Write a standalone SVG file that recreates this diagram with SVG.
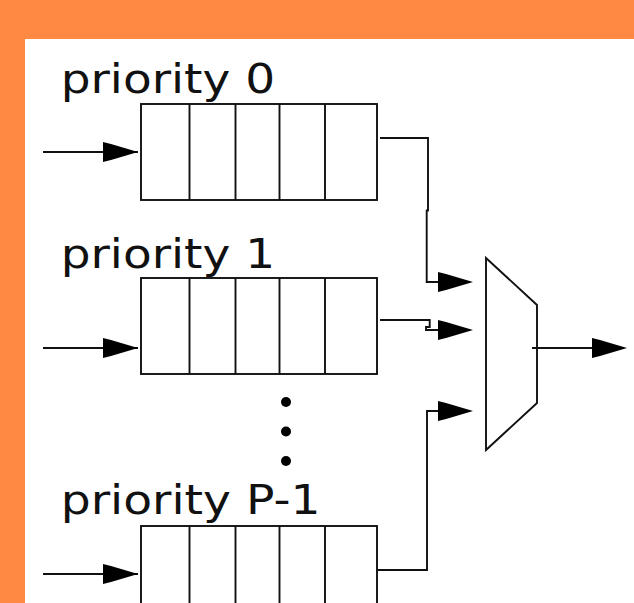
<svg xmlns="http://www.w3.org/2000/svg" width="634" height="603" viewBox="0 0 634 603">
  <style>
    .ln { fill: none; stroke: #111111; stroke-width: 1.9; }
    .box { fill: #ffffff; stroke: #111111; stroke-width: 1.9; }
    .head { fill: #000000; stroke: none; }
    .lbl { font-family: "DejaVu Sans", "Liberation Sans", sans-serif; font-size: 41px; fill: #111111; }
  </style>
  <defs>
    <!-- filled arrowhead, tip at origin pointing right -->
    <polygon id="ah" class="head" points="-35,-10 -27,-8 0,0 -27,8 -35,10"/>
    <!-- five-slot queue, 236 x 96 -->
    <g id="queue">
      <rect class="box" x="0" y="0" width="236" height="96"/>
      <path class="ln" d="M48.5,0V96M94.5,0V96M138.5,0V96M184,0V96"/>
    </g>
  </defs>

  <!-- frame -->
  <rect x="0" y="0" width="634" height="603" fill="#ff8843"/>
  <rect x="25" y="39" width="609" height="564" fill="#ffffff"/>

  <g id="queue0">
    <text class="lbl" x="60.7" y="93" textLength="214.5" lengthAdjust="spacingAndGlyphs">priority 0</text>
    <use href="#queue" x="141" y="104"/>
  </g>

  <g id="queue1">
    <text class="lbl" x="60.7" y="268" textLength="214.5" lengthAdjust="spacingAndGlyphs">priority 1</text>
    <use href="#queue" x="141" y="278"/>
  </g>

  <g id="ellipsis">
    <circle cx="286" cy="402" r="5" fill="#000"/>
    <circle cx="286" cy="431.5" r="5" fill="#000"/>
    <circle cx="286" cy="461" r="5" fill="#000"/>
  </g>

  <g id="queueP1">
    <text class="lbl" x="60.7" y="514" textLength="259.8" lengthAdjust="spacingAndGlyphs">priority P-1</text>
    <use href="#queue" x="141" y="526"/>
  </g>

  <g id="mux">
    <path class="box" d="M486,258 L537,305 L537,403 L486,450 Z"/>
  </g>

  <g id="connectors">
    <!-- inputs -->
    <path class="ln" d="M43,152H138"/>
    <use href="#ah" x="138" y="152"/>
    <path class="ln" d="M43,348H138"/>
    <use href="#ah" x="138" y="348"/>
    <path class="ln" d="M43,574H138"/>
    <use href="#ah" x="138" y="574"/>

    <!-- queue outputs into the selector -->
    <path class="ln" d="M380,138H428V210.5H426.7V282H470"/>
    <use href="#ah" x="473" y="282"/>
    <path class="ln" d="M380,320H429.7V327H426V330H470"/>
    <use href="#ah" x="473" y="330"/>
    <path class="ln" d="M377,570H427V411H470"/>
    <use href="#ah" x="473" y="411"/>

    <!-- selector output -->
    <path class="ln" d="M532,348H624"/>
    <use href="#ah" x="627" y="348"/>
  </g>
</svg>
